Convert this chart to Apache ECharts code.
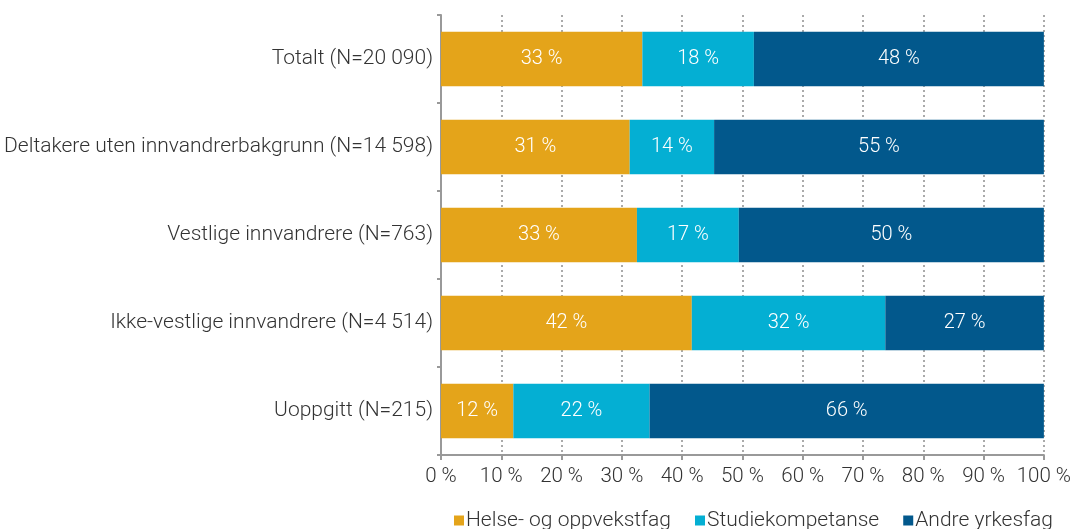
<!DOCTYPE html>
<html>
<head>
<meta charset="utf-8">
<script src="https://cdn.jsdelivr.net/npm/echarts@6/dist/echarts.min.js"></script>
<style>
  html, body { margin: 0; padding: 0; background: #fff; }
  #chart { width: 1074px; height: 529px; }
</style>
</head>
<body>
<div id="chart"></div>
<script>
  // kategorier, ovenfra og ned
  const categories = [
    'Totalt (N=20 090)',
    'Deltakere uten innvandrerbakgrunn (N=14 598)',
    'Vestlige innvandrere (N=763)',
    'Ikke-vestlige innvandrere (N=4 514)',
    'Uoppgitt (N=215)'
  ]
  const seriesNames = ['Helse- og oppvekstfag', 'Studiekompetanse', 'Andre yrkesfag']
  // andeler i prosent (lest av stolpelengdene)
  const helse = [33.4, 31.3, 32.5, 41.6, 12.0]
  const studie = [18.5, 14.0, 16.9, 32.1, 22.6]
  const andre = [48.1, 54.7, 50.6, 26.3, 65.4]
  // etikettene slik de står i figuren
  const helseLabels = ['33 %', '31 %', '33 %', '42 %', '12 %']
  const studieLabels = ['18 %', '14 %', '17 %', '32 %', '22 %']
  const andreLabels = ['48 %', '55 %', '50 %', '27 %', '66 %']
  const colors = ['#e4a41a', '#04afd3', '#02588c']

  const font = 'Roboto'
  const chart = echarts.init(document.getElementById('chart'))

  function makeSeries (name, data, labels, color) {
    return {
      name: name,
      type: 'bar',
      stack: 'total',
      barWidth: '62%',
      itemStyle: { color: color },
      label: {
        show: true,
        position: 'inside',
        color: '#ffffff',
        fontFamily: font,
        fontWeight: 300,
        fontSize: 20,
        formatter (p) {
          return labels[p.dataIndex]
        }
      },
      data: data
    }
  }

  chart.setOption({
    backgroundColor: '#ffffff',
    animation: false,
    color: colors,
    textStyle: { fontFamily: font },
    grid: {
      left: 441,
      right: 29,
      top: 15,
      bottom: 74,
      containLabel: false
    },
    legend: {
      bottom: -7,
      left: 449,
      itemWidth: 10,
      itemHeight: 10,
      itemGap: 24,
      icon: 'rect',
      textStyle: {
        color: '#333333',
        fontFamily: font,
        fontWeight: 300,
        fontSize: 21,
        padding: [0, 0, 0, -3]
      },
      data: seriesNames
    },
    xAxis: {
      type: 'value',
      min: 0,
      max: 100,
      interval: 10,
      axisLine: { show: true, lineStyle: { color: '#999999', width: 2 } },
      axisTick: { show: true, length: 5, lineStyle: { color: '#999999', width: 2 } },
      axisLabel: {
        color: '#333333',
        fontFamily: font,
        fontWeight: 300,
        fontSize: 20.5,
        margin: 11,
        formatter: '{value} %'
      },
      splitLine: {
        show: true,
        lineStyle: { color: '#aaaaaa', type: [2, 3], width: 2 }
      }
    },
    yAxis: {
      type: 'category',
      inverse: true,
      data: categories,
      axisLine: { show: true, lineStyle: { color: '#999999', width: 2 } },
      axisTick: { show: true, length: 4, lineStyle: { color: '#999999', width: 2 } },
      axisLabel: {
        color: '#333333',
        fontFamily: font,
        fontWeight: 300,
        fontSize: 21,
        margin: 8
      }
    },
    series: [
      makeSeries(seriesNames[0], helse, helseLabels, colors[0]),
      makeSeries(seriesNames[1], studie, studieLabels, colors[1]),
      makeSeries(seriesNames[2], andre, andreLabels, colors[2])
    ]
  })
</script>
</body>
</html>
